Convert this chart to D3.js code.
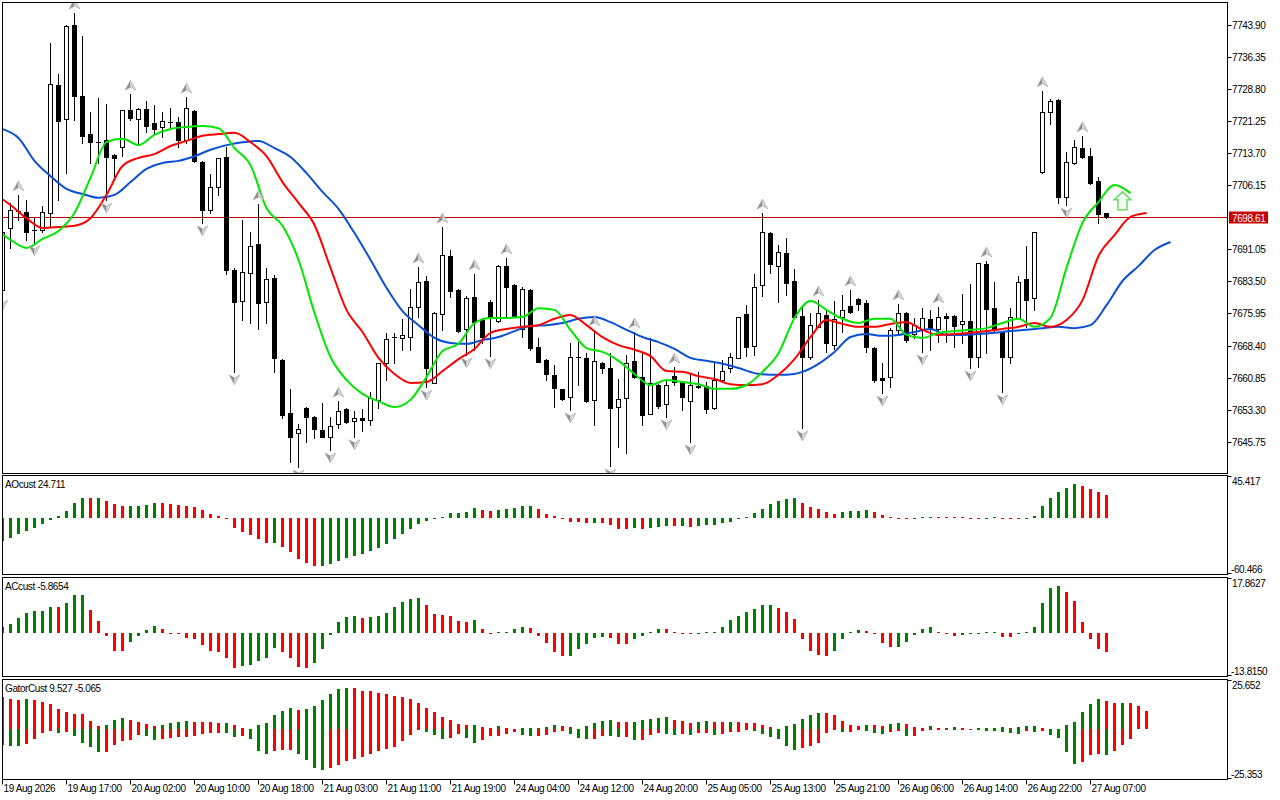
<!DOCTYPE html>
<html>
<head>
<meta charset="utf-8">
<title>Chart</title>
<script src="https://cdn.jsdelivr.net/npm/d3@7"></script>
<style>
  body { margin: 0; background: #fff; }
  svg { display: block; }
  text { font-family: "Liberation Sans", Arial, sans-serif; font-size: 10px; letter-spacing: -0.4px; fill: #000; }
</style>
</head>
<body>
<svg width="1280" height="800"></svg>
<script>
// hourly candles, bar 0 = 19 Aug 2026 09:00
const opens = [7681.5,7696.1,7700.1,7699.9,7695.6,7695.6,7699.6,7729.8,7721.8,7743.9,
  7727.2,7718.2,7716.3,7716.8,7713.3,7715.2,7723.9,7721.8,7724.1,7720.8,
  7719.9,7721.1,7721.1,7716.8,7723.6,7711.6,7700.3,7705.7,7712.8,7686.2,
  7678.9,7685.5,7692.3,7678.7,7684.3,7665.0,7652.5,7647.8,7653.7,7651.6,
  7648.5,7646.9,7649.9,7653.4,7650.6,7651.3,7650.9,7655.6,7664.3,7670.4,
  7670.2,7670.4,7677.5,7683.6,7659.6,7675.8,7689.5,7681.5,7672.3,7679.8,
  7674.4,7678.7,7674.2,7687.1,7682.7,7672.3,7681.5,7668.1,7665.0,7661.5,
  7658.2,7656.3,7665.7,7665.5,7655.6,7664.3,7663.1,7653.9,7656.0,7664.8,
  7661.0,7652.3,7659.1,7654.6,7661.2,7659.8,7655.3,7658.9,7658.9,7653.7,
  7660.3,7663.1,7665.5,7675.8,7668.3,7682.7,7694.9,7687.1,7690.2,7683.6,
  7675.4,7665.7,7672.8,7675.6,7668.5,7675.1,7677.7,7679.4,7678.4,7667.8,
  7660.8,7661.0,7672.1,7676.1,7671.1,7672.3,7674.6,7672.3,7675.4,7675.4,
  7673.5,7674.2,7665.7,7687.6,7677.2,7671.6,7665.7,7674.9,7684.1,7679.6,
  7709.3,7723.4,7726.2,7703.4,7711.4,7714.9,7713.0,7707.2,7699.6];
const highs = [7697.5,7702.0,7703.9,7702.7,7698.4,7701.3,7739.7,7732.4,7743.9,7746.7,
  7741.3,7723.4,7726.7,7725.3,7713.5,7723.9,7727.6,7724.3,7726.0,7725.1,
  7723.4,7724.3,7722.2,7726.9,7723.9,7711.9,7708.8,7712.6,7715.2,7686.7,
  7698.0,7695.1,7701.7,7686.7,7685.0,7665.2,7658.2,7649.9,7653.9,7651.8,
  7654.8,7651.6,7655.3,7653.7,7653.0,7653.4,7657.5,7664.3,7671.4,7671.4,
  7674.7,7681.7,7686.9,7684.8,7676.3,7696.3,7690.9,7681.7,7680.1,7685.3,
  7674.9,7679.1,7687.4,7689.0,7682.9,7682.2,7681.7,7670.2,7665.2,7663.8,
  7658.2,7669.0,7669.2,7666.6,7672.1,7664.5,7666.6,7660.5,7666.2,7671.6,
  7666.6,7670.2,7659.3,7660.3,7663.3,7660.0,7661.9,7662.2,7659.8,7664.3,
  7665.0,7666.6,7675.1,7677.9,7685.3,7699.6,7695.1,7692.1,7693.7,7686.4,
  7677.9,7676.1,7679.1,7676.8,7678.9,7680.3,7681.5,7679.6,7679.1,7668.0,
  7664.3,7672.5,7678.2,7676.3,7674.9,7677.2,7676.8,7677.5,7676.1,7675.6,
  7680.5,7682.9,7687.8,7688.3,7683.4,7671.8,7677.2,7684.8,7691.8,7695.2,
  7728.4,7726.5,7726.5,7714.0,7716.8,7717.8,7714.9,7708.1,7699.7];
const lows = [7679.8,7691.4,7698.0,7693.3,7692.6,7695.1,7696.3,7702.7,7709.0,7721.5,
  7716.1,7711.4,7711.4,7702.7,7708.1,7713.0,7721.5,7715.6,7718.7,7718.5,
  7717.5,7719.6,7715.2,7716.1,7711.6,7697.3,7699.6,7703.9,7685.3,7662.2,
  7674.4,7673.7,7672.3,7673.7,7662.2,7651.3,7641.0,7639.8,7645.7,7646.6,
  7646.8,7643.8,7649.0,7650.1,7646.9,7648.3,7649.7,7653.7,7660.3,7664.3,
  7667.3,7667.3,7675.1,7658.6,7659.5,7672.1,7679.8,7671.6,7666.2,7667.3,
  7669.0,7666.0,7673.9,7675.1,7675.1,7670.4,7667.3,7664.5,7660.3,7653.9,
  7655.6,7653.2,7659.1,7655.1,7649.7,7661.9,7640.0,7644.5,7643.1,7660.8,
  7649.7,7652.2,7653.7,7651.6,7659.1,7653.2,7645.7,7658.4,7652.5,7653.4,
  7659.8,7662.2,7665.4,7665.9,7666.2,7680.1,7685.5,7678.7,7680.3,7674.9,
  7649.0,7665.2,7672.7,7666.9,7667.6,7671.6,7676.1,7676.8,7666.9,7659.8,
  7657.2,7658.6,7671.4,7669.2,7670.2,7666.9,7667.3,7669.2,7669.2,7668.0,
  7669.0,7663.1,7663.3,7666.6,7671.8,7657.5,7664.3,7674.8,7672.8,7676.8,
  7709.0,7720.6,7702.0,7701.5,7711.2,7712.6,7706.4,7697.3,7698.5];
const closes = [7695.1,7700.3,7700.0,7695.1,7695.5,7699.9,7730.0,7721.3,7743.7,7727.2,
  7717.8,7716.3,7716.4,7712.8,7712.6,7723.9,7722.0,7724.1,7720.1,7719.4,
  7721.3,7721.0,7716.8,7724.4,7711.9,7700.3,7705.7,7712.6,7686.2,7678.7,
  7685.7,7691.8,7678.4,7684.1,7665.5,7652.0,7646.9,7648.7,7651.6,7648.7,
  7646.9,7649.4,7653.0,7650.4,7651.3,7650.9,7656.0,7664.3,7669.9,7670.3,
  7670.9,7677.5,7683.4,7663.1,7676.1,7689.7,7681.2,7671.8,7679.6,7673.9,
  7670.4,7674.9,7687.1,7682.2,7675.4,7681.7,7667.8,7664.5,7661.7,7658.4,
  7655.8,7665.7,7665.6,7655.3,7664.8,7663.1,7653.7,7655.8,7664.3,7661.0,
  7652.0,7659.6,7654.2,7659.1,7659.8,7656.3,7659.1,7658.6,7653.4,7660.3,
  7662.4,7665.7,7675.1,7668.1,7682.2,7695.1,7687.6,7690.4,7683.1,7675.1,
  7665.7,7673.2,7676.1,7669.0,7674.6,7676.8,7676.3,7678.2,7668.0,7660.3,
  7660.3,7672.1,7676.1,7669.7,7673.2,7674.9,7672.3,7675.1,7674.9,7673.0,
  7674.2,7665.7,7687.8,7677.0,7672.3,7665.7,7675.1,7683.4,7679.1,7695.1,
  7723.4,7726.0,7703.4,7711.6,7715.2,7712.8,7706.7,7699.4,7698.61];

// fractal bars
const fractalUp = [2,9,16,23,32,42,52,55,59,63,74,79,84,95,102,106,112,117,123,130,135];
const fractalDown = [0,4,13,25,29,37,41,44,53,58,61,71,76,83,86,100,110,115,121,125,133];

// alligator lines, one value every 2 bars, each line starts at its own bar
const lineStep = 2;
const jawStart = 0;
const jaw = [7719.4,7717.3,7711.9,7708.3,7705.3,7704.1,7703.2,7703.9,7706.9,7710.0,
  7711.4,7711.9,7713.0,7714.5,7715.6,7716.3,7716.6,7714.9,7712.8,7709.0,
  7704.6,7700.6,7694.9,7688.6,7682.0,7676.5,7673.2,7670.2,7669.0,7668.8,
  7669.7,7670.4,7671.8,7673.0,7673.2,7673.7,7674.7,7675.1,7673.9,7672.1,
  7670.4,7669.2,7667.6,7665.5,7664.8,7664.1,7663.1,7661.9,7661.5,7661.5,
  7662.2,7664.1,7666.9,7670.4,7671.1,7670.7,7670.9,7671.6,7672.3,7670.9,
  7670.9,7671.1,7671.4,7671.8,7672.1,7672.5,7672.8,7672.5,7673.2,7677.9,
  7683.6,7687.1,7690.9,7692.8];
const teethStart = -1;
const teeth = [7704.1,7701.5,7698.4,7696.1,7696.3,7696.6,7698.4,7703.9,7710.7,7712.6,
  7713.5,7715.4,7716.6,7717.8,7718.2,7718.5,7716.3,7713.0,7706.9,7702.0,
  7696.8,7686.7,7676.8,7671.6,7665.5,7661.7,7659.6,7659.8,7662.4,7665.2,
  7667.6,7671.4,7672.3,7672.8,7673.2,7674.7,7675.6,7673.2,7670.4,7668.5,
  7667.4,7665.9,7662.4,7662.2,7661.2,7660.5,7659.3,7659.1,7659.3,7661.5,
  7665.2,7670.4,7674.4,7673.5,7672.8,7672.8,7673.5,7673.9,7672.1,7670.9,
  7671.1,7671.4,7671.8,7672.3,7672.8,7673.7,7672.8,7674.4,7679.1,7689.5,
  7694.4,7698.7,7699.6];
const lipsStart = -1;
const lips = [7696.1,7693.3,7691.4,7693.5,7695.4,7699.6,7707.9,7716.3,7717.1,7715.6,
  7718.0,7719.4,7719.9,7720.1,7719.6,7714.9,7710.9,7700.8,7696.6,7688.6,
  7676.1,7665.7,7660.3,7657.0,7655.3,7653.9,7655.6,7661.0,7667.1,7668.8,
  7673.7,7674.9,7674.9,7675.1,7677.2,7676.8,7672.1,7667.8,7666.9,7664.8,
  7661.7,7659.1,7660.3,7659.8,7659.3,7658.2,7658.2,7659.1,7662.2,7666.6,
  7674.9,7678.9,7676.8,7674.7,7673.7,7674.7,7674.7,7670.9,7670.2,7671.4,
  7671.8,7672.1,7672.5,7673.7,7674.7,7672.8,7674.9,7686.7,7697.3,7702.2,
  7706.2,7704.3];

const signalBars = [140];
const signalPrices = [7704.6];

const aoValues = [-24.5,-21.2,-17.6,-14.0,-10.4,-6.8,-2.2,2.2,7.9,15.5,
  21.6,21.4,21.7,18.4,14.8,13.0,13.1,13.3,14.0,16.2,
  15.9,15.1,14.4,13.0,11.5,8.6,4.3,2.2,-1.4,-10.4,
  -15.1,-18.4,-22.7,-26.6,-26.5,-31.0,-36.7,-44.3,-48.3,-51.9,
  -51.8,-49.7,-46.1,-43.2,-40.7,-38.2,-35.3,-32.1,-27.4,-22.7,
  -16.9,-11.5,-6.5,-2.9,-0.7,1.4,5.0,5.8,6.0,10.4,
  8.3,7.2,8.6,9.4,10.5,13.0,13.3,10.1,4.0,2.5,
  -0.7,-4.0,-4.1,-5.4,-5.3,-5.8,-7.6,-11.5,-11.9,-10.4,
  -11.9,-10.4,-9.4,-8.3,-9.0,-8.3,-9.4,-8.3,-7.9,-7.6,
  -5.8,-4.0,-1.4,1.4,5.0,9.7,14.8,18.4,20.2,21.6,
  16.2,11.9,9.4,6.1,4.0,6.5,7.6,7.9,8.0,6.5,
  3.2,0.4,-0.4,-0.7,-0.3,1.2,1.3,0.9,0.5,0.3,
  0.1,-0.1,-0.3,-0.1,0.1,-0.5,-0.7,-0.8,-0.5,2.2,
  13.0,21.2,27.7,32.0,36.4,34.6,31.0,28.1,24.7];
const acValues = [2.0,3.1,4.9,6.4,7.1,7.2,8.5,8.4,9.8,12.2,
  12.3,7.4,3.9,-0.9,-5.5,-5.7,-2.8,-0.9,1.0,2.4,
  1.3,-0.1,-0.3,-1.4,-1.7,-3.6,-5.8,-6.0,-7.8,-11.0,
  -10.5,-10.0,-9.0,-7.8,-4.7,-6.0,-7.8,-10.8,-11.0,-9.5,
  -4.9,-0.4,3.5,5.1,5.5,4.9,5.3,5.6,6.6,8.5,
  9.9,11.0,11.4,9.0,6.1,6.0,5.6,3.9,3.6,4.2,
  1.3,-0.2,0.2,0.4,1.4,2.0,1.7,-0.9,-3.1,-6.0,
  -7.3,-7.2,-5.1,-3.4,-1.4,-1.2,-1.4,-3.3,-3.4,-1.7,
  -0.9,0.4,1.5,1.4,0.1,-0.1,-0.3,-0.1,0.2,0.5,
  2.0,4.2,5.6,6.9,7.7,9.0,9.1,8.1,6.9,4.5,
  -1.9,-5.8,-6.9,-7.3,-5.8,-1.9,0.4,1.2,0.8,-0.3,
  -3.1,-4.4,-4.3,-2.8,-0.4,1.5,2.0,0.4,-0.3,-0.8,
  -0.4,-0.2,-0.1,0.0,0.2,-1.2,-1.3,-0.3,0.2,2.0,
  9.8,14.6,15.1,13.3,10.3,3.6,-1.7,-5.1,-5.9];
const gatorUpper = [16.4,15.5,15.0,15.5,15.0,14.3,12.9,10.4,8.8,8.1,
  7.8,4.1,1.6,2.1,4.7,5.7,4.7,3.8,2.9,1.6,
  2.1,3.3,3.8,4.1,3.8,3.7,3.6,3.1,3.2,2.4,
  0.5,0.4,2.1,3.3,7.3,9.3,10.9,10.0,10.5,11.9,
  15.0,18.1,20.7,21.2,21.1,19.9,19.5,18.6,18.3,17.4,
  16.6,15.5,13.5,10.9,8.8,6.2,4.7,2.6,2.1,2.2,
  1.0,0.5,1.6,0.5,0.4,0.5,0.6,0.8,1.0,2.1,
  1.6,1.0,0.3,1.6,3.1,4.1,4.7,3.6,3.5,3.6,
  4.7,5.2,5.7,6.2,4.7,4.1,3.1,3.6,4.1,3.6,
  3.5,3.6,3.5,3.4,3.1,2.1,1.0,0.1,1.6,2.6,
  5.2,7.3,8.3,8.2,7.3,4.1,2.1,1.6,2.1,2.0,
  1.9,2.6,3.1,2.6,1.0,0.5,1.6,0.5,0.6,1.0,
  0.5,0.4,0.5,0.6,0.7,1.0,0.9,1.0,1.6,1.7,
  0.5,0.1,0.0,2.1,3.6,8.8,12.9,15.5,14.5,13.5,
  13.6,13.5,11.9,9.527];
const gatorLower = [-8.1,-8.6,-8.7,-7.6,-5.0,-2.1,-0.9,-1.9,-1.6,-3.5,
  -7.1,-9.1,-11.7,-11.6,-8.1,-6.0,-5.7,-2.9,-3.6,-5.7,
  -5.0,-4.7,-4.0,-3.9,-3.3,-2.6,-2.1,-1.7,-1.8,-4.0,
  -3.5,-5.0,-11.2,-12.9,-11.2,-10.7,-10.6,-12.8,-15.9,-19.7,
  -21.2,-20.2,-18.5,-16.4,-15.4,-14.2,-12.9,-11.2,-10.4,-9.0,
  -6.0,-2.9,-0.5,-1.6,-2.9,-5.2,-4.7,-2.4,-4.7,-7.3,
  -5.7,-3.6,-3.5,-2.6,-1.6,-3.1,-3.6,-3.5,-3.1,-1.6,
  -1.0,-2.6,-4.7,-5.2,-5.1,-3.6,-3.7,-4.1,-4.0,-5.7,
  -5.6,-3.1,-2.1,-2.6,-2.7,-2.6,-3.1,-2.1,-2.0,-3.1,
  -2.6,-1.6,-1.5,-0.5,-1.0,-2.6,-4.1,-5.2,-8.8,-10.9,
  -9.8,-8.8,-7.3,-2.1,-0.5,-1.6,-1.5,-0.5,-1.0,-2.1,
  -2.6,-1.6,-1.0,-3.6,-3.5,-1.0,-0.5,-0.4,-0.3,-0.5,
  -0.4,-0.3,-0.5,-1.0,-1.1,-1.2,-2.1,-2.2,-1.0,-1.6,
  -1.0,-3.1,-4.7,-11.9,-18.1,-16.6,-13.5,-12.9,-13.0,-11.4,
  -8.3,-5.065];

const timeLabels = ['19 Aug 2026','19 Aug 17:00','20 Aug 02:00','20 Aug 10:00','20 Aug 18:00',
  '21 Aug 03:00','21 Aug 11:00','21 Aug 19:00','24 Aug 04:00','24 Aug 12:00','24 Aug 20:00',
  '25 Aug 05:00','25 Aug 13:00','25 Aug 21:00','26 Aug 06:00','26 Aug 14:00','26 Aug 22:00',
  '27 Aug 07:00'];
const timeLabelBars = [0,8,16,24,32,40,48,56,64,72,80,88,96,104,112,120,128,136];
const priceTicks = [7743.90,7736.35,7728.80,7721.25,7713.70,7706.15,7691.05,7683.50,7675.95,
  7668.40,7660.85,7653.30,7645.75];
const lastPrice = 7698.61;

const GREEN = '#008000', RED = '#ff0000';

const svg = d3.select('svg');
svg.append('rect').attr('width', 1280).attr('height', 800).attr('fill', '#fff');

const x = d3.scaleLinear().domain([0, 100]).range([2.5, 802.5]);   // 8 px per bar
const yMain = d3.scaleLinear().domain([7645.75, 7743.90]).range([441.7, 25]);
const yAO = d3.scaleLinear().domain([-60.466, 45.417]).range([574.5, 475.5]);
const yAC = d3.scaleLinear().domain([-13.8150, 17.8627]).range([676.5, 577.5]);
const yGator = d3.scaleLinear().domain([-25.353, 25.652]).range([778.5, 679.5]);

const panelLeft = 2.5, panelRight = 1227.5;
const panels = [
  {id: 'main', top: 2.5, bottom: 473.5},
  {id: 'ao', top: 475.5, bottom: 574.5},
  {id: 'ac', top: 577.5, bottom: 676.5},
  {id: 'gator', top: 679.5, bottom: 779.5}
];

const defs = svg.append('defs');
panels.forEach(p => {
  defs.append('clipPath').attr('id', 'clip-' + p.id)
    .append('rect')
    .attr('x', panelLeft + 0.5).attr('y', p.top + 0.5)
    .attr('width', panelRight - panelLeft - 1).attr('height', p.bottom - p.top - 1);
});

const layer = id => svg.append('g').attr('clip-path', 'url(#clip-' + id + ')');

// ---------- main chart ----------
const main = layer('main');

// bid line sits behind the candles
const yLast = Math.round(yMain(lastPrice)) + 0.5;
main.append('line')
  .attr('x1', panelLeft).attr('x2', panelRight)
  .attr('y1', yLast).attr('y2', yLast)
  .attr('stroke', '#c00000').attr('stroke-width', 1);

const candles = opens.map((o, i) => ({i, o, h: highs[i], l: lows[i], c: closes[i]}));

main.selectAll('line.wick').data(candles).join('line')
  .attr('class', 'wick')
  .attr('x1', d => x(d.i)).attr('x2', d => x(d.i))
  .attr('y1', d => Math.round(yMain(d.h)))
  .attr('y2', d => Math.round(yMain(d.l)) + 1)
  .attr('stroke', '#000').attr('stroke-width', 1);

main.selectAll('rect.body').data(candles).join('rect')
  .attr('class', 'body')
  .attr('x', d => x(d.i) - 2)
  .attr('width', 4)
  .attr('y', d => Math.round(yMain(Math.max(d.o, d.c))) + 0.5)
  .attr('height', d => Math.max(Math.round(yMain(Math.min(d.o, d.c))) - Math.round(yMain(Math.max(d.o, d.c))), 0.01))
  .attr('fill', d => d.c >= d.o ? '#fff' : '#000')
  .attr('stroke', '#000').attr('stroke-width', 1);

// alligator
const alligator = [
  {vals: jaw, start: jawStart, color: '#0a4fd6'},
  {vals: teeth, start: teethStart, color: '#ff0000'},
  {vals: lips, start: lipsStart, color: '#00e600'}
];
const lineGen = d3.line().x(d => x(d.i)).y(d => yMain(d.v)).curve(d3.curveMonotoneX);
alligator.forEach(a => {
  const pts = a.vals.map((v, k) => ({i: a.start + k * lineStep, v}));
  main.append('path')
    .attr('d', lineGen(pts))
    .attr('fill', 'none')
    .attr('stroke', a.color)
    .attr('stroke-width', 2);
});

// fractal arrows
function drawArrow(g, cx, cy, dir) {
  const s = dir;   // 1 = up, -1 = down
  const a = g.append('g').attr('transform', 'translate(' + cx + ',' + cy + ')');
  a.append('path').attr('d', 'M0,' + (-5 * s) + ' L-5.5,' + (5 * s) + ' L0,' + (2 * s) + 'Z').attr('fill', '#8e8e8e');
  a.append('path').attr('d', 'M0,' + (-5 * s) + ' L5.5,' + (5 * s) + ' L0,' + (2 * s) + 'Z').attr('fill', '#d4d4d4');
  a.append('path').attr('d', 'M0,' + (-5 * s) + ' L5.5,' + (5 * s) + ' L0,' + (2 * s) + ' L-5.5,' + (5 * s) + 'Z')
    .attr('fill', 'none').attr('stroke', '#a8a8a8').attr('stroke-width', 0.6);
}
fractalUp.forEach(i => drawArrow(main, x(i), yMain(highs[i]) - 9, 1));
fractalDown.forEach(i => drawArrow(main, x(i), yMain(lows[i]) + 8, -1));

// alligator signal arrow
signalBars.forEach((i, k) => {
  const tx = x(i), ty = yMain(signalPrices[k]);
  main.append('path')
    .attr('d', `M${tx},${ty} L${tx + 8.5},${ty + 8} L${tx + 4.5},${ty + 8} L${tx + 4.5},${ty + 18} L${tx - 4.5},${ty + 18} L${tx - 4.5},${ty + 8} L${tx - 8.5},${ty + 8}Z`)
    .attr('fill', '#f4fff0')
    .attr('stroke', '#6fd86f')
    .attr('stroke-width', 1.5)
    .attr('stroke-linejoin', 'miter');
});

// ---------- histograms ----------
function colorsOf(vals, firstColor, byAbs) {
  return vals.map((v, i) => {
    if (i === 0) return firstColor;
    const cur = byAbs ? Math.abs(v) : v;
    const prev = byAbs ? Math.abs(vals[i - 1]) : vals[i - 1];
    return cur > prev ? GREEN : RED;
  });
}

function drawHist(g, vals, yS, colors, minH) {
  const y0 = Math.round(yS(0));
  g.selectAll(null).data(vals).join('rect')
    .attr('x', (d, i) => x(i) - 1.5)
    .attr('width', 3)
    .attr('y', d => {
      const yv = Math.round(yS(d));
      let h = Math.abs(yv - y0);
      if (h < minH) h = minH;
      return d >= 0 ? y0 - h : y0;
    })
    .attr('height', d => {
      const h = Math.abs(Math.round(yS(d)) - y0);
      return Math.max(h, minH);
    })
    .attr('fill', (d, i) => colors[i]);
}

const aoG = layer('ao');
drawHist(aoG, aoValues, yAO, colorsOf(aoValues, GREEN, false), 1);
const acG = layer('ac');
drawHist(acG, acValues, yAC, colorsOf(acValues, RED, false), 1);
const gatorG = layer('gator');
drawHist(gatorG, gatorUpper, yGator, colorsOf(gatorUpper, RED, true), 0);
drawHist(gatorG, gatorLower, yGator, colorsOf(gatorLower, RED, true), 0);

// ---------- frames ----------
panels.forEach(p => {
  svg.append('rect')
    .attr('x', panelLeft).attr('y', p.top)
    .attr('width', panelRight - panelLeft).attr('height', p.bottom - p.top)
    .attr('fill', 'none').attr('stroke', '#000').attr('stroke-width', 1);
});

// ---------- price axis ----------
const axisG = svg.append('g');
priceTicks.forEach(v => {
  const yy = Math.round(yMain(v)) + 0.5;
  axisG.append('line').attr('x1', panelRight).attr('x2', panelRight + 4)
    .attr('y1', yy).attr('y2', yy).attr('stroke', '#000');
  axisG.append('text').attr('x', 1232).attr('y', yy + 3.5).text(v.toFixed(2));
});
axisG.append('rect')
  .attr('x', 1229).attr('y', yLast - 6).attr('width', 39).attr('height', 12)
  .attr('fill', '#c80000');
axisG.append('text').attr('x', 1232).attr('y', yLast + 4)
  .style('fill', '#fff').text(lastPrice.toFixed(2));

// sub-window scales and titles
const subScales = [
  {p: panels[1], top: '45.417', bottom: '-60.466', title: 'AOcust 24.711'},
  {p: panels[2], top: '17.8627', bottom: '-13.8150', title: 'ACcust -5.8654'},
  {p: panels[3], top: '25.652', bottom: '-25.353', title: 'GatorCust 9.527 -5.065'}
];
subScales.forEach(s => {
  axisG.append('line').attr('x1', panelRight).attr('x2', panelRight + 4)
    .attr('y1', s.p.top + 1).attr('y2', s.p.top + 1).attr('stroke', '#000');
  axisG.append('line').attr('x1', panelRight).attr('x2', panelRight + 4)
    .attr('y1', s.p.bottom - 1).attr('y2', s.p.bottom - 1).attr('stroke', '#000');
  axisG.append('text').attr('x', 1232).attr('y', s.p.top + 9.5).text(s.top);
  axisG.append('text').attr('x', 1231).attr('y', s.p.bottom - 2).text(s.bottom);
  axisG.append('text').attr('x', 5).attr('y', s.p.top + 12.5).text(s.title);
});

// ---------- time axis ----------
timeLabels.forEach((t, k) => {
  const xx = x(timeLabelBars[k]);
  axisG.append('line').attr('x1', xx).attr('x2', xx)
    .attr('y1', 779.5).attr('y2', 784.5).attr('stroke', '#000');
  axisG.append('text').attr('x', xx + 1).attr('y', 792).text(t);
});
</script>
</body>
</html>
